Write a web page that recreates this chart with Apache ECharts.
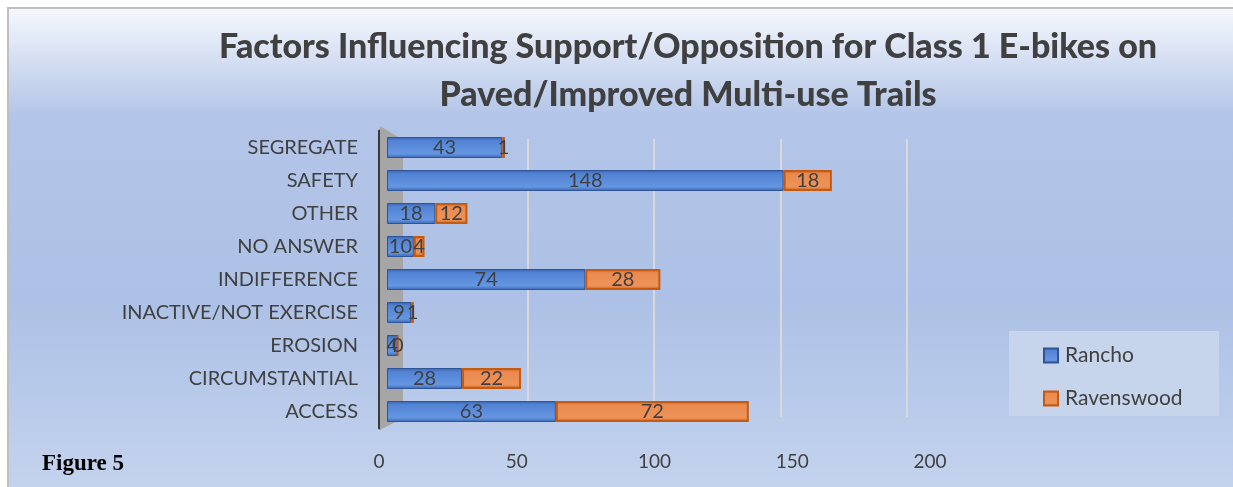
<!DOCTYPE html>
<html>
<head>
<meta charset="utf-8">
<script src="https://cdn.jsdelivr.net/npm/echarts@6/dist/echarts.min.js"></script>
<style>
  html, body { margin: 0; padding: 0; background: #fff; }
  #chart { width: 1233px; height: 487px; }
</style>
</head>
<body>
<div id="chart"></div>
<script>
const categories = ["SEGREGATE", "SAFETY", "OTHER", "NO ANSWER", "INDIFFERENCE",
  "INACTIVE/NOT EXERCISE", "EROSION", "CIRCUMSTANTIAL", "ACCESS"];
const rancho = [43, 148, 18, 10, 74, 9, 4, 28, 63];
const ravenswood = [1, 18, 12, 4, 28, 1, 0, 22, 72];
const xTicks = [0, 50, 100, 150, 200];

const FONT = "Lato, 'Open Sans', sans-serif";
const TXT = "#404040";

const chart = echarts.init(document.getElementById("chart"), null, { renderer: "canvas" });

function barFill(dark, mid, light){
  return new echarts.graphic.LinearGradient(0, 0, 0, 1, [
    { offset: 0, color: dark },
    { offset: 0.18, color: mid },
    { offset: 0.8, color: light },
    { offset: 1, color: dark }
  ]);
}

chart.setOption({
  animation: false,
  backgroundColor: "#fff",
  textStyle: { fontFamily: FONT },
  title: {
    text: "Factors Influencing Support/Opposition for Class 1 E-bikes on\nPaved/Improved Multi-use Trails",
    left: 683,
    top: 18,
    textAlign: "center",
    textStyle: { fontFamily: FONT, fontSize: 34, fontWeight: 900, color: TXT, lineHeight: 48 }
  },
  legend: {
    orient: "vertical",
    left: 1038,
    top: 340,
    itemWidth: 14,
    itemHeight: 14,
    itemGap: 22,
    icon: "rect",
    textStyle: { fontFamily: FONT, fontSize: 21, color: TXT, padding: [0, 0, 0, 2] },
    data: ["Rancho", "Ravenswood"]
  },
  grid: [
    { left: 387, width: 536, top: 131, height: 297 },
    { left: 401, width: 506, top: 139, height: 278 },
    { left: 379, width: 551, top: 131, height: 310 }
  ],
  xAxis: [
    { gridIndex: 0, type: "value", min: 0, max: 200, interval: 50,
      axisLine: { show: false }, axisTick: { show: false }, axisLabel: { show: false },
      splitLine: { show: false } },
    { gridIndex: 1, type: "value", min: 0, max: 200, interval: 50,
      axisLine: { show: false }, axisTick: { show: false }, axisLabel: { show: false },
      splitLine: { show: true, lineStyle: { color: "#d9d9d9", width: 2 } } },
    { gridIndex: 2, type: "value", min: xTicks[0], max: xTicks[xTicks.length - 1], interval: 50,
      axisLine: { show: false }, axisTick: { show: false }, splitLine: { show: false },
      axisLabel: { fontFamily: FONT, fontSize: 19, color: TXT, margin: 11 } }
  ],
  yAxis: [
    { gridIndex: 0, type: "category", data: categories, inverse: true,
      axisLine: { show: true, onZero: false, lineStyle: { color: "#3a3a3a", width: 3 } },
      offset: 8,
      axisTick: { show: false },
      axisLabel: { fontFamily: FONT, fontSize: 20, color: TXT, margin: 21 } },
    { gridIndex: 1, type: "category", data: categories, inverse: true, show: false },
    { gridIndex: 2, type: "category", data: categories, inverse: true, show: false }
  ],
  graphic: [
    {
      type: "rect", z: -10, silent: true,
      shape: { x: 8, y: 8, width: 1240, height: 490 },
      style: {
        fill: new echarts.graphic.LinearGradient(0, 0, 0, 1, [
          { offset: 0, color: "#f6f8fd" },
          { offset: 0.22, color: "#b3c5e8" },
          { offset: 0.6, color: "#adc1e6" },
          { offset: 1, color: "#c5d4ee" }
        ]),
        stroke: "#bfbfbf", lineWidth: 2
      }
    },
    {
      type: "polygon", z: 1, silent: true,
      shape: { points: [[380, 126], [403, 140], [403, 418], [380, 430]] },
      style: { fill: "#a6a6a6" }
    },
    {
      type: "rect", z: -5, silent: true,
      shape: { x: 1009, y: 331, width: 210, height: 85 },
      style: { fill: "#c6d4ec" }
    },
    {
      type: "text", left: 42, top: 453, silent: true,
      style: { text: "Figure 5", font: "bold 23px 'Liberation Serif', 'Times New Roman', serif", fill: "#000" }
    }
  ],
  series: [
    {
      name: "Rancho",
      type: "bar",
      stack: "total",
      data: rancho,
      barWidth: 21,
      itemStyle: {
        color: barFill("#3a64ae", "#5283d4", "#6596e2"),
        borderColor: "#2f5597",
        borderWidth: 1
      },
      label: { show: true, position: "inside", fontFamily: FONT, fontSize: 20, color: TXT }
    },
    {
      name: "Ravenswood",
      type: "bar",
      stack: "total",
      data: ravenswood,
      barWidth: 21,
      itemStyle: {
        color: barFill("#c55a11", "#ea8a50", "#ee9358"),
        borderColor: "#c55a11",
        borderWidth: 2
      },
      label: { show: true, position: "inside", fontFamily: FONT, fontSize: 20, color: TXT }
    }
  ]
});
</script>
</body>
</html>
